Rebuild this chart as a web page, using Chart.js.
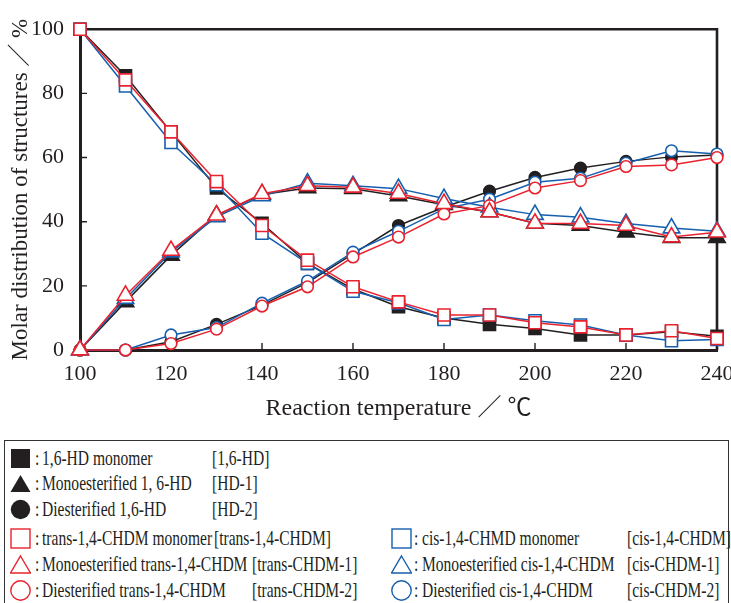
<!DOCTYPE html>
<html>
<head>
<meta charset="utf-8">
<script src="https://cdn.jsdelivr.net/npm/chart.js@4.4.0/dist/chart.umd.min.js"></script>
<style>
    body { margin: 0; background: #fff; }
    #wrap { position: relative; width: 731px; height: 603px; overflow: hidden; }
    #plot { position: absolute; left: 0; top: 0; width: 731px; height: 440px; }
    #legend {
        position: absolute; left: 4px; top: 440px; width: 725px; height: 200px;
        border: 1.5px solid #333; border-bottom: none; box-sizing: border-box;
    }
    .lg { position: absolute; white-space: nowrap; font-family: "Liberation Serif", serif;
          font-size: 21px; line-height: 24px; color: #231f20;
          transform: scaleX(0.74); transform-origin: 0 50%; }
    .sym { position: absolute; }
</style>
</head>
<body>
<div id="wrap">
    <div id="plot"><canvas id="chart"></canvas></div>
    <div id="legend"></div>
</div>
<script>
// reaction temperature, degC
const temps = [100, 110, 120, 130, 140, 150, 160, 170, 180, 190, 200, 210, 220, 230, 240];

// molar distribution, %
const hdMonomer    = [100, 85.5, 68, 50.5, 39.5, 27, 19, 13.5, 10, 8, 6.7, 4.7, 4.7, 5.7, 4.3];
const hd1          = [0, 15, 29.5, 42, 48.5, 50.5, 50.3, 48, 45.3, 43, 39.5, 38.8, 36.7, 35, 35];
const hd2          = [0, 0, 2.6, 8, 14, 21, 30, 38.8, 44.5, 49.5, 53.8, 56.7, 58.8, 60.2, 60.8];
const transMonomer = [100, 84.2, 68, 52.5, 38.8, 28, 19.7, 15, 10.9, 10.9, 8.5, 7.2, 4.7, 6, 3.6];
const trans1       = [0, 17, 31, 42, 48.7, 51.2, 50.7, 48.8, 45.6, 43, 39.5, 39.4, 38.8, 35.2, 36.7];
const trans2       = [0, 0, 2, 6.5, 13.7, 19.7, 29, 35.2, 42.4, 45, 50.5, 52.8, 57.2, 57.7, 60];
const cisMonomer   = [100, 82.3, 64.7, 51.5, 36.4, 27, 18.3, 14.7, 9.5, 10.9, 9.1, 7.8, 4.7, 2.9, 3.3];
const cis1         = [0, 16, 30.5, 41.5, 48, 52, 51.2, 50.3, 47.2, 44.5, 42.2, 41.4, 39.4, 38, 37];
const cis2         = [0, 0, 4.7, 7, 14.6, 21.5, 30.5, 37, 44, 47, 52.3, 53.5, 58.2, 62.1, 61.1];

const xTicks = [100, 120, 140, 160, 180, 200, 220, 240];
const yTicks = [0, 20, 40, 60, 80, 100];

const INK = "#231f20";
const RED = "#e8222e";
const BLUE = "#155fae";
const SERIF = "'Liberation Serif', 'Noto Sans CJK JP', serif";

const series = [
    { label: "1,6-HD monomer", code: "[1,6-HD]", data: hdMonomer, color: INK, shape: "rect", filled: true },
    { label: "Monoesterified 1, 6-HD", code: "[HD-1]", data: hd1, color: INK, shape: "triangle", filled: true },
    { label: "Diesterified 1,6-HD", code: "[HD-2]", data: hd2, color: INK, shape: "circle", filled: true },
    { label: "trans-1,4-CHDM monomer", code: "[trans-1,4-CHDM]", data: transMonomer, color: RED, shape: "rect", filled: false },
    { label: "Monoesterified trans-1,4-CHDM", code: "[trans-CHDM-1]", data: trans1, color: RED, shape: "triangle", filled: false },
    { label: "Diesterified trans-1,4-CHDM", code: "[trans-CHDM-2]", data: trans2, color: RED, shape: "circle", filled: false },
    { label: "cis-1,4-CHMD monomer", code: "[cis-1,4-CHDM]", data: cisMonomer, color: BLUE, shape: "rect", filled: false },
    { label: "Monoesterified cis-1,4-CHDM", code: "[cis-CHDM-1]", data: cis1, color: BLUE, shape: "triangle", filled: false },
    { label: "Diesterified cis-1,4-CHDM", code: "[cis-CHDM-2]", data: cis2, color: BLUE, shape: "circle", filled: false }
];

const radius = { rect: 8.5, triangle: 9.5, circle: 5.8 };

// red on top, then blue, black at the bottom
function drawOrder(color) {
    if (color === RED) return 0;
    if (color === BLUE) return 1;
    return 2;
}

const datasets = series.map(s => ({
    label: s.label,
    data: temps.map((t, i) => ({ x: t, y: s.data[i] })),
    borderColor: s.color,
    borderWidth: 1.5,
    tension: 0,
    pointStyle: s.shape,
    pointRadius: radius[s.shape],
    pointBorderWidth: 1.6,
    pointBorderColor: s.color,
    pointBackgroundColor: s.filled ? s.color : "#fff",
    clip: false,
    order: drawOrder(s.color)
}));

// top/right frame and the small inward ticks
const framePlugin = {
    id: "frame",
    beforeDatasetsDraw(chart) {
        const { ctx, chartArea: a, scales: { x, y } } = chart;
        ctx.save();
        ctx.strokeStyle = INK;
        ctx.lineWidth = 2.6;
        ctx.beginPath();
        ctx.moveTo(a.left, a.top);
        ctx.lineTo(a.right, a.top);
        ctx.lineTo(a.right, a.bottom);
        ctx.stroke();

        ctx.lineWidth = 1.4;
        ctx.beginPath();
        x.ticks.forEach(t => {
            if (t.value <= x.min || t.value >= x.max) return;
            const px = x.getPixelForValue(t.value);
            ctx.moveTo(px, a.bottom);
            ctx.lineTo(px, a.bottom - 7);
        });
        y.ticks.forEach(t => {
            if (t.value <= y.min || t.value >= y.max) return;
            const py = y.getPixelForValue(t.value);
            ctx.moveTo(a.left, py);
            ctx.lineTo(a.left + 7, py);
        });
        ctx.stroke();
        ctx.restore();
    }
};

new Chart(document.getElementById("chart"), {
    type: "line",
    data: { datasets },
    options: {
        responsive: true,
        maintainAspectRatio: false,
        animation: false,
        events: [],
        layout: { padding: { top: 28, right: 14, bottom: 0, left: 0 } },
        plugins: { legend: { display: false }, tooltip: { enabled: false } },
        scales: {
            x: {
                type: "linear",
                min: xTicks[0],
                max: xTicks[xTicks.length - 1],
                afterBuildTicks: s => { s.ticks = xTicks.map(v => ({ value: v })); },
                ticks: { padding: 11, color: INK, font: { family: SERIF, size: 22 } },
                grid: { display: false, drawTicks: false },
                border: { display: true, color: INK, width: 3 },
                title: {
                    display: true, text: "Reaction temperature ／ ℃", color: INK,
                    font: { family: SERIF, size: 24 }, padding: { top: 0, bottom: 17 }
                },
                afterFit: s => { s.height = 90; s.paddingLeft = 0; s.paddingRight = 0; }
            },
            y: {
                min: yTicks[0],
                max: yTicks[yTicks.length - 1],
                afterBuildTicks: s => { s.ticks = yTicks.map(v => ({ value: v })); },
                ticks: { padding: 16, color: INK, font: { family: SERIF, size: 22 } },
                grid: { display: false, drawTicks: false },
                border: { display: true, color: INK, width: 3 },
                title: {
                    display: true, text: "Molar distribution of structures ／ %", color: INK,
                    font: { family: SERIF, size: 23 }, padding: { top: 7, bottom: 0 }
                },
                afterFit: s => { s.width = 80; }
            }
        }
    },
    plugins: [framePlugin]
});

// legend box below the plot (page coordinates, box starts at 4,440)
const legendSlots = [
    { sx: 21, cx: 37, tx: 42, bx: 212, y: 459 },
    { sx: 21, cx: 37, tx: 42, bx: 212, y: 484 },
    { sx: 21, cx: 37, tx: 42, bx: 212, y: 510 },
    { sx: 21, cx: 37, tx: 42, bx: 214, y: 539 },
    { sx: 21, cx: 37, tx: 42, bx: 252, y: 565 },
    { sx: 21, cx: 37, tx: 42, bx: 252, y: 591 },
    { sx: 402, cx: 416, tx: 422, bx: 627, y: 539 },
    { sx: 402, cx: 416, tx: 422, bx: 627, y: 565 },
    { sx: 402, cx: 416, tx: 422, bx: 627, y: 591 }
];

function symbolSvg(s) {
    const fill = s.filled ? s.color : "none";
    const sw = s.filled ? 0 : 1.4;
    let shape = "";
    switch (s.shape) {
        case "rect":
            shape = `<rect x="1" y="1" width="19" height="19" fill="${fill}" stroke="${s.color}" stroke-width="${sw}"/>`;
            break;
        case "triangle":
            shape = `<polygon points="10.5,2 20.5,19 0.5,19" fill="${fill}" stroke="${s.color}" stroke-width="${sw}"/>`;
            break;
        case "circle":
            shape = `<circle cx="10.5" cy="10.5" r="9.7" fill="${fill}" stroke="${s.color}" stroke-width="${sw}"/>`;
            break;
        default:
    }
    return `<svg width="21" height="21" viewBox="0 0 21 21">${shape}</svg>`;
}

const legend = document.getElementById("legend");
const ox = 4 + 1.5, oy = 440 + 1.5;
legend.innerHTML = series.reduce((html, s, i) => {
    const p = legendSlots[i];
    const top = p.y - 12.2 - oy;
    return html +
        `<div class="sym" style="left:${p.sx - 10.5 - ox}px;top:${p.y - 10.5 - oy}px">${symbolSvg(s)}</div>
         <span class="lg" style="left:${p.cx - 2 - ox}px;top:${top}px">:</span>
         <span class="lg" style="left:${p.tx - ox}px;top:${top}px">${s.label}</span>
         <span class="lg" style="left:${p.bx - ox}px;top:${top}px">${s.code}</span>`;
}, "");
</script>
</body>
</html>
